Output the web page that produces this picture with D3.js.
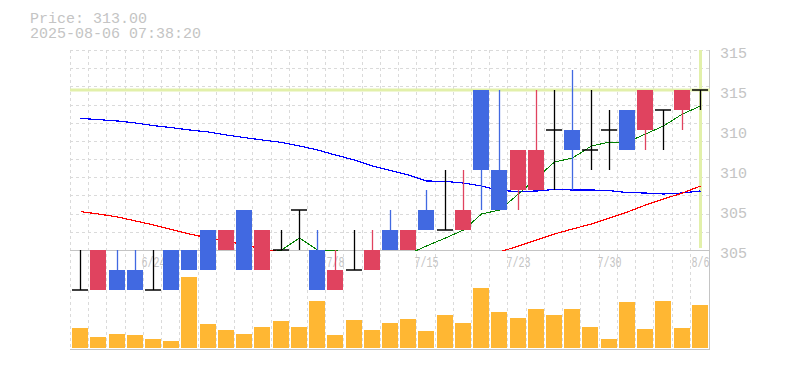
<!DOCTYPE html>
<html>
<head>
<meta charset="utf-8">
<script src="https://cdn.jsdelivr.net/npm/d3@7/dist/d3.min.js"></script>
<style>
body { margin: 0; background: #fff; }
svg { display: block; }
text { font-family: "Liberation Mono", "DejaVu Sans Mono", monospace; fill: #c4c4c4; }
</style>
</head>
<body>
<div id="chart"></div>
<script>
// trading days shown
var dates = ["6/18","6/19","6/20","6/23","6/24","6/25","6/26","6/27","6/30","7/1",
             "7/2","7/3","7/4","7/7","7/8","7/9","7/10","7/11","7/14","7/15",
             "7/16","7/17","7/18","7/22","7/23","7/24","7/25","7/28","7/29","7/30",
             "7/31","8/1","8/4","8/5","8/6"];

var open  = [303,303,304,304,303,305,305,306,305,307,304,305,307,305,303,304,304,306,305,307,
             306,306,313,309,308,308,311,311,310,311,312,311,312,312,313];
var high  = [305,305,305,305,305,305,305,306,306,307,306,306,307,306,305,306,306,307,306,308,
             309,309,313,313,310,313,313,314,313,312,312,313,312,313,313];
var low   = [303,303,303,303,303,303,304,304,305,304,304,305,305,303,303,304,304,305,305,306,
             306,306,307,307,307,308,308,308,309,309,310,310,310,311,312];
var close = [303,305,303,303,303,303,304,304,306,304,306,305,307,303,304,304,305,305,306,306,
             306,307,309,307,310,310,311,310,310,311,310,313,312,313,313];

// moving averages (short / mid / long)
var maShort = [null,null,null,null,303.4,303.4,303.2,303.4,304.0,304.2,304.8,305.0,305.6,305.0,305.0,304.6,304.6,304.2,304.8,305.2,
               305.6,306.0,306.8,307.0,307.8,308.6,309.4,309.6,310.2,310.4,310.4,310.8,311.2,311.8,312.2];
var maMid   = [311.58,311.52,311.45,311.35,311.22,311.12,311.0,310.9,310.75,310.62,310.5,310.38,310.2,310.0,309.75,309.5,309.2,308.98,308.75,308.45,
               308.43,308.35,308.2,307.98,307.92,307.95,308.03,308.0,308.0,307.97,307.87,307.85,307.8,307.85,307.95];
var maLong  = [306.92,306.8,306.65,306.45,306.25,306.02,305.8,305.6,305.45,305.25,305.05,304.9,304.75,304.6,304.5,304.4,304.35,304.35,304.4,304.45,
               304.55,304.65,304.6,304.9,305.2,305.5,305.8,306.05,306.3,306.6,306.9,307.25,307.55,307.85,308.2];

var volume = [20,11,14,13,9,7,71,24,18,14,21,27,21,47,13,28,18,25,29,17,
              33,25,60,36,30,39,33,39,21,9,46,19,47,20,43];

var xLabels = ["6/24","7/1","7/8","7/15","7/23","7/30","8/6"];
var yTicks = [315,313,311,309,307,305];
var yTickLabels = ["315","315","310","310","305","305"];

var lastPrice = 313.00;
var stamp = "2025-08-06 07:38:20";

var width = 785, height = 370;
var plotLeft = 71, plotRight = 709, plotTop = 50, plotMid = 250, plotBottom = 349.5;

var svg = d3.select("#chart").append("svg")
    .attr("width", width)
    .attr("height", height);

var x = d3.scaleBand()
    .domain(dates)
    .range([plotLeft, plotRight])
    .paddingInner(0.12)
    .paddingOuter(0.06);
var step = x.step();

var y = d3.scaleLinear()
    .domain([305, 315])
    .range([plotMid, plotTop]);

var yVol = d3.scaleLinear()
    .domain([0, 100])
    .range([348, 248]);

var cx = function(d){ return Math.round(x(d) + x.bandwidth() / 2); };

// grid
var grid = svg.append("g");
for (var k = 0; k < 35; k++)
{
    var gx = Math.round(plotLeft + k * step) - 0.5;
    grid.append("line")
        .attr("x1", gx).attr("x2", gx)
        .attr("y1", plotTop).attr("y2", plotBottom)
        .style("stroke", "#dadada")
        .style("stroke-dasharray", "3,3");
}
for (var j = 0; j < 11; j++)
{
    var gy = Math.round(plotTop + j * 200 / 11) + 0.5;
    grid.append("line")
        .attr("x1", plotLeft - 1).attr("x2", plotRight)
        .attr("y1", gy).attr("y2", gy)
        .style("stroke", "#dadada")
        .style("stroke-dasharray", "3,3");
}

// frame
svg.append("line")
    .attr("x1", plotLeft - 1).attr("x2", plotRight + 1)
    .attr("y1", plotMid + 0.5).attr("y2", plotMid + 0.5)
    .style("stroke", "#c4c4c4");
svg.append("line")
    .attr("x1", plotLeft - 1).attr("x2", plotRight + 1)
    .attr("y1", plotBottom).attr("y2", plotBottom)
    .style("stroke", "#c4c4c4");
svg.append("line")
    .attr("x1", plotRight + 0.5).attr("x2", plotRight + 0.5)
    .attr("y1", plotTop).attr("y2", plotBottom)
    .style("stroke", "#c4c4c4");

// current price marker
svg.append("line")
    .attr("x1", plotLeft - 1).attr("x2", plotRight + 1)
    .attr("y1", y(lastPrice)).attr("y2", y(lastPrice))
    .style("stroke", "#e2f0aa")
    .style("stroke-width", 3);
svg.append("line")
    .attr("x1", cx(dates[dates.length - 1]) + 0.5).attr("x2", cx(dates[dates.length - 1]) + 0.5)
    .attr("y1", plotTop).attr("y2", plotMid - 2)
    .style("stroke", "#e2f0aa")
    .style("stroke-width", 3);

// moving averages, cut at the bottom of the price panel
svg.append("clipPath")
    .attr("id", "priceClip")
    .append("rect")
    .attr("x", plotLeft - 1).attr("y", plotTop - 2)
    .attr("width", plotRight - plotLeft + 2).attr("height", plotMid - plotTop + 3);

var maLine = function(values, color, w)
{
    var line = d3.line()
        .defined(function(d){ return d != null; })
        .x(function(d, i){ return cx(dates[i]) + 0.5; })
        .y(function(d){ return y(d); });
    svg.append("path")
        .datum(values)
        .attr("d", line)
        .attr("clip-path", "url(#priceClip)")
        .style("fill", "none")
        .style("stroke", color)
        .style("stroke-width", w)
        .style("shape-rendering", "crispEdges");
};
maLine(maMid, "#0000ff", 1.2);
maLine(maLong, "#ff0000", 1.2);
maLine(maShort, "#008000", 1);

// axis labels
svg.append("g").selectAll("text")
    .data(yTicks)
    .enter()
    .append("text")
    .attr("x", 720)
    .attr("y", function(d){ return y(d) + 8; })
    .style("font-size", "15px")
    .text(function(d, i){ return yTickLabels[i]; });

svg.append("g").selectAll("text")
    .data(xLabels)
    .enter()
    .append("text")
    .attr("x", function(d){ return cx(d) + 0.5; })
    .attr("y", 266.5)
    .attr("text-anchor", "middle")
    .attr("textLength", function(d){ return d.length * 6; })
    .attr("lengthAdjust", "spacingAndGlyphs")
    .style("font-size", "14px")
    .text(function(d){ return d; });

// candles
var candleColor = function(i)
{
    if (close[i] > open[i])
    {
        return "#e0435f";
    }
    else if (close[i] < open[i])
    {
        return "#4169e1";
    }
    return "#000000";
};

var candles = svg.append("g").selectAll("g")
    .data(dates)
    .enter()
    .append("g");

candles.append("line")
    .attr("x1", function(d){ return cx(d) + 0.5; })
    .attr("x2", function(d){ return cx(d) + 0.5; })
    .attr("y1", function(d, i){ return y(high[i]); })
    .attr("y2", function(d, i){ return y(low[i]); })
    .style("stroke", function(d, i){ return candleColor(i); })
    .style("stroke-width", 1.3);

candles.filter(function(d, i){ return open[i] != close[i]; })
    .append("rect")
    .attr("x", function(d){ return Math.round(x(d)); })
    .attr("width", Math.round(x.bandwidth()))
    .attr("y", function(d){ var i = dates.indexOf(d); return y(Math.max(open[i], close[i])); })
    .attr("height", function(d){ var i = dates.indexOf(d); return Math.abs(y(open[i]) - y(close[i])); })
    .style("fill", function(d){ return candleColor(dates.indexOf(d)); });

candles.filter(function(d, i){ return open[i] == close[i]; })
    .append("line")
    .attr("x1", function(d){ return Math.round(x(d)); })
    .attr("x2", function(d){ return Math.round(x(d)) + Math.round(x.bandwidth()); })
    .attr("y1", function(d){ return y(close[dates.indexOf(d)]); })
    .attr("y2", function(d){ return y(close[dates.indexOf(d)]); })
    .style("stroke", "#000")
    .style("stroke-width", 1.5);

// volume
svg.append("g").selectAll("rect")
    .data(volume)
    .enter()
    .append("rect")
    .attr("x", function(d, i){ return Math.round(x(dates[i])); })
    .attr("width", Math.round(x.bandwidth()))
    .attr("y", function(d){ return yVol(d); })
    .attr("height", function(d){ return yVol(0) - yVol(d); })
    .style("fill", "#ffb733");

// header
svg.append("text")
    .attr("x", 30).attr("y", 23)
    .style("font-size", "15px")
    .text("Price: " + lastPrice.toFixed(2));
svg.append("text")
    .attr("x", 30).attr("y", 37.5)
    .style("font-size", "15px")
    .text(stamp);
</script>
</body>
</html>
